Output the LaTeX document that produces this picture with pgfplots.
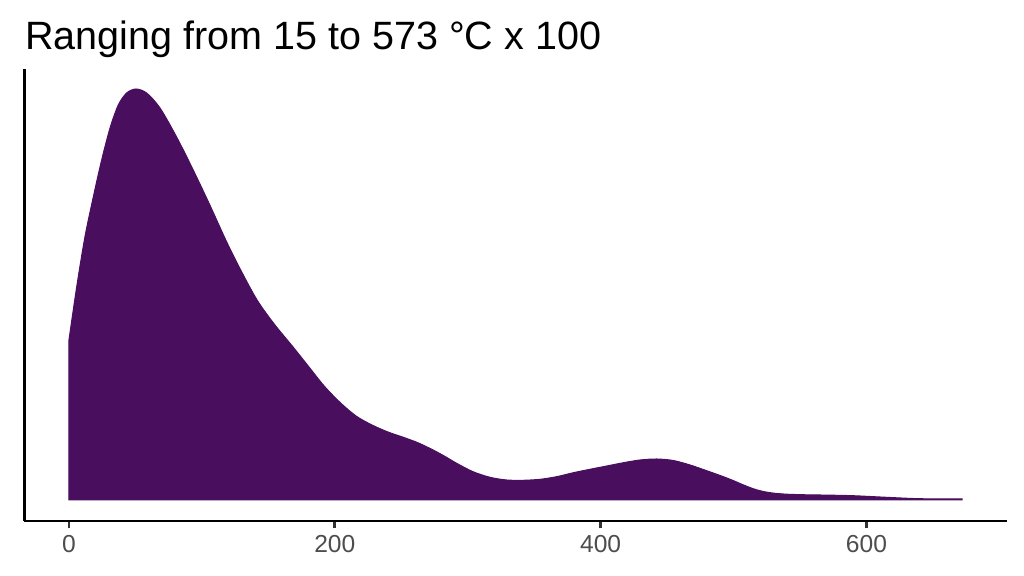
\documentclass[border=0pt]{standalone}
\usepackage{fontspec}
\setmainfont{Liberation Sans}
\usepackage{pgfplots}
\pgfplotsset{compat=1.18}
\definecolor{fillc}{HTML}{490F5E}
\definecolor{tickc}{HTML}{333333}
\definecolor{labc}{HTML}{4D4D4D}
\begin{document}
\begin{tikzpicture}
\path[use as bounding box] (0,0) rectangle (512pt,288pt);
\begin{axis}[at={(12.15pt,27.5pt)}, anchor=south west, scale only axis,
  width=491.25pt, height=226pt,
  xmin=-33.6, xmax=705.6, ymin=-21, ymax=431,
  axis x line=bottom, axis y line=left,
  axis line style={-, line width=1.3pt, black},
  ytick=\empty, xtick={0,200,400,600},
  xtick align=outside, major tick length=3.7pt,
  tick style={color=tickc, line width=1.3pt},
  xticklabel style={font=\fontsize{12.3pt}{14pt}\selectfont, text=labc},
  /pgf/number format/assume math mode=true, clip=false]
\addplot[fill=fillc, draw=fillc, line width=0.5pt, smooth, tension=0.5] table {
x h
0 160
5.8 213
12 263
18.3 303
24.6 340
30.9 372
37.1 395
43.4 407
50.4 411
58.4 407
68.5 392
81 363
93.5 330
106 295
118.7 258
130 228
142 199
155 175
168 154
180 134
192 114
204 97.5
216 84
228 75
240 68
252 62.5
263 57
274 50
283 43.5
291.7 36.7
304 28.3
316.8 22.7
329.3 20
341.8 19.7
354.4 20.7
366.9 23.3
379.5 27.3
392 30.7
404.6 34
417.2 37.3
429.6 40
442.2 41
454.7 39.5
467.3 35
479.8 29.3
492.4 23.3
500 19.3
507 15.3
515 11.2
522 8.6
530 6.9
540 5.8
555 5.2
570 4.9
590 4.3
615 2.7
640 1.3
672 1
} \closedcycle;
\end{axis}
\node[anchor=base west, inner sep=0pt, font=\fontsize{19.75pt}{22pt}\selectfont] at (12.5pt,263pt) {Ranging from 15 to 573 °C x 100};
\end{tikzpicture}
\end{document}
